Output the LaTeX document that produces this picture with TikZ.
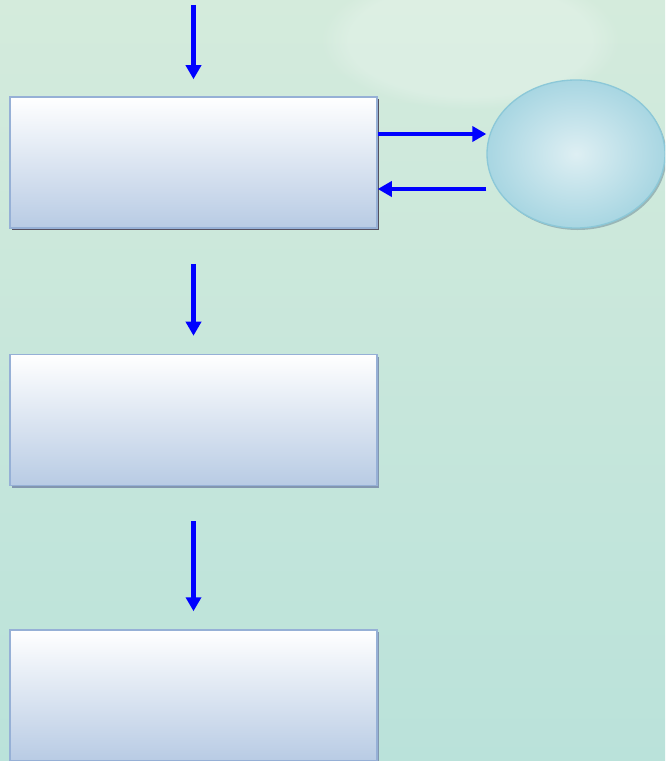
\documentclass[tikz,border=0pt]{standalone}
\usetikzlibrary{arrows.meta,shadows,shapes.geometric,fadings}

\definecolor{boxbottom}{RGB}{184,203,228}
\definecolor{boxline}{RGB}{150,176,214}
\definecolor{darkshadow}{RGB}{85,80,96}
\definecolor{lightshadow}{RGB}{130,150,176}
\definecolor{ellinner}{RGB}{222,239,243}
\definecolor{ellouter}{RGB}{168,214,226}
\definecolor{ellline}{RGB}{140,200,216}
\definecolor{ellshadow}{RGB}{120,150,160}
\definecolor{bgtop}{RGB}{212,235,220}
\definecolor{bgbottom}{RGB}{186,226,218}
\definecolor{arrowblue}{RGB}{0,0,255}

\begin{document}
\begin{tikzpicture}[
            x = 0.03cm, y = -0.03cm,
            box/.style={rectangle, minimum width = 11.01cm, minimum height = 3.93cm, inner sep = 0pt,
                top color = white, bottom color = boxbottom,
                draw = boxline, line width = .045cm},
            boxshadow/.style={drop shadow={shadow xshift = .07cm, shadow yshift = -.07cm, opacity = 1, fill = #1}},
            oval/.style={ellipse, minimum width = 5.34cm, minimum height = 4.44cm, inner sep = 0pt,
                inner color = ellinner, outer color = ellouter,
                draw = ellline, line width = .04cm,
                drop shadow={shadow xshift = .05cm, shadow yshift = -.06cm, opacity = .6, fill = ellshadow}},
            arr/.style={draw = arrowblue, line width = .135cm,
                -{Triangle[length = .42cm, width = .45cm]}},
            ]

        \useasboundingbox (0,0) rectangle (665,761);
        \clip (0,0) rectangle (665,761);
        \shade[top color = bgtop, bottom color = bgbottom] (0,0) rectangle (665,761);
        \fill[white, opacity = .22, path fading = circle with fuzzy edge 20 percent] (470,40) ellipse (150 and 70);

        \node[box, boxshadow = darkshadow] (box1) at (193.5,162.5) {};
        \node[box, boxshadow = lightshadow] (box2) at (193.5,420) {};
        \node[box, boxshadow = lightshadow] (box3) at (193.5,695.5) {};
        \node[oval] (ell) at (576,154) {};

        \coordinate (start) at (193.5,5);
        \draw[arr, shorten > = .51cm] (start) -- (box1.north);
        \draw[arr, shorten < = 1.05cm, shorten > = .54cm] (box1.south) -- (box2.north);
        \draw[arr, shorten < = 1.05cm, shorten > = .54cm] (box2.south) -- (box3.north);

        \draw[arr] ([yshift = .855cm]box1.east) -- ([yshift = .855cm]box1.east -| ell.west);
        \draw[arr] ([yshift = -.795cm]box1.east -| ell.west) -- ([yshift = -.795cm]box1.east);

    \end{tikzpicture}
\end{document}
